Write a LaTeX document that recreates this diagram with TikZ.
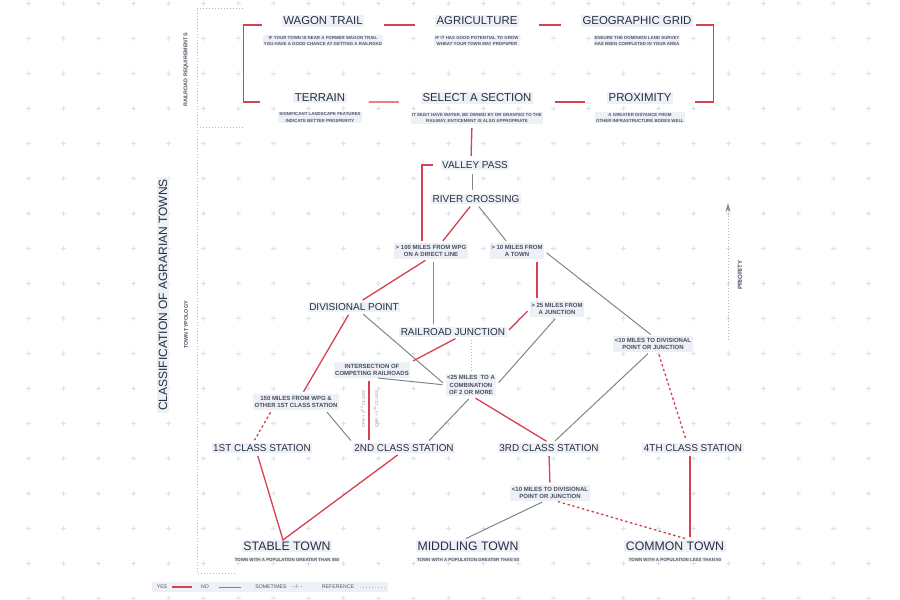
\documentclass[tikz,border=0pt]{standalone}
\usepackage{fontspec}
\setmainfont{Liberation Sans}
\setsansfont{Liberation Sans}
\usepackage{xcolor}
\usetikzlibrary{arrows.meta, positioning, calc}

\definecolor{yesred}{RGB}{214,64,80}
\definecolor{nogrey}{RGB}{128,132,140}
\definecolor{ink}{RGB}{40,46,66}
\definecolor{notegrey}{RGB}{78,84,102}
\definecolor{tagbg}{RGB}{237,241,246}
\definecolor{gridgrey}{RGB}{222,225,230}
\definecolor{refgrey}{RGB}{178,182,190}

\newcommand{\pxfont}[2]{\fontsize{#1}{#2}\selectfont}

\begin{document}
\begin{tikzpicture}[
	  x=1pt, y=-1pt,
	  font=\sffamily,
	  reqtitle/.style={fill=tagbg, inner sep=1.5pt, text=ink, font=\pxfont{11.4}{13}},
	  reqnote/.style={fill=tagbg, inner sep=1pt, text=notegrey, align=center, font=\bfseries\pxfont{4.4}{6.2}},
	  stage/.style={fill=tagbg, inner sep=1.5pt, text=ink, font=\pxfont{10}{12}},
	  crit/.style={fill=tagbg, inner sep=1.5pt, text=ink!85, align=center, font=\bfseries\pxfont{6}{7.8}},
	  station/.style={stage, font=\pxfont{9.9}{12}},
	  town/.style={stage, font=\pxfont{12.3}{14}},
	  sidelabel/.style={rotate=90, text=notegrey, font=\bfseries\pxfont{5.4}{6.5}},
	  legendtext/.style={text=notegrey, inner sep=0pt, font=\pxfont{5.2}{6}},
	  yesline/.style={yesred, line width=1.3pt},
	  noline/.style={nogrey, line width=1pt},
	  maybeline/.style={yesred, line width=1.3pt, dash pattern=on 2.5pt off 2.5pt},
	  refline/.style={refgrey, line width=1pt, dash pattern=on 1pt off 2pt},
	  gridmark/.style={gridgrey, line width=0.5pt},
	  linegap/.style={shorten <=#1, shorten >=#1},
	  linegap/.default=3pt
	]
	\useasboundingbox (0,0) rectangle (900,600);
	
	% Background grid
	\foreach \gx in {0,...,25}
	  \foreach \gy in {0,...,17}
	    \draw[gridmark] (28+35*\gx,3+35*\gy) ++(-2.5,0) -- ++(5,0) ++(-2.5,-2.5) -- ++(0,5);
	
	% Reference frame and side titles
	\draw[refline] (243,8) -- (197,8) -- (197,573) -- (237,573);
	\draw[refline] (197,127) -- (243,127);
	\node[sidelabel] (reqside) at (186,70) {RAILROAD REQUIREMENTS};
	\node[rotate=90, fill=tagbg, text=ink, inner sep=2pt, font=\pxfont{12}{14}] (classtitle) at (163,295) {CLASSIFICATION OF AGRARIAN TOWNS};
	\node[sidelabel] (typology) at (186,325) {TOWN TYPOLOGY};
	
	% Railroad requirements
	\node[reqtitle] (wagon) at (323,21) {WAGON TRAIL};
	\node[reqnote, below=8pt of wagon] (wagonnote) {IF YOUR TOWN IS NEAR A FORMER WAGON TRAIL\\YOU HAVE A GOOD CHANCE AT GETTING A RAILROAD};
	
	\node[reqtitle] (agri) at (477,21) {AGRICULTURE};
	\node[reqnote, below=8pt of agri] (agrinote) {IF IT HAS GOOD POTENTIAL TO GROW\\WHEAT YOUR TOWN MAY PROPSPER};
	
	\node[reqtitle] (geo) at (637,21) {GEOGRAPHIC GRID};
	\node[reqnote, below=8pt of geo] (geonote) {ENSURE THE DOMINION LAND SURVEY\\HAS BEEN COMPLETED IN YOUR AREA};
	
	\node[reqtitle] (terrain) at (320,98) {TERRAIN};
	\node[reqnote, below=8pt of terrain] (terrainnote) {SIGNIFICANT LANDSCAPE FEATURES\\INDICATE BETTER PROSPERITY};
	
	\node[reqtitle] (select) at (477,98) {SELECT A SECTION};
	\node[reqnote, below=8pt of select] (selectnote) {IT MUST HAVE WATER, BE OWNED BY OR GRANTED TO THE\\RAILWAY, ENTICEMENT IS ALSO APPROPRIATE};
	
	\node[reqtitle] (prox) at (640,98) {PROXIMITY};
	\node[reqnote, below=8pt of prox] (proxnote) {A GREATER DISTANCE FROM\\OTHER INFRASTRUCTURE BODES WELL};
	
	% Decision tree
	\node[stage] (valley) at (475,165) {VALLEY PASS};
	\node[stage] (river) at (476,199) {RIVER CROSSING};
	\node[crit] (wpg100) at (431,251) {> 100 MILES FROM WPG\\ON A DIRECT LINE};
	\node[crit] (town10) at (517,251) {> 10 MILES FROM\\A TOWN};
	\node[stage] (divisional) at (354,307) {DIVISIONAL POINT};
	\node[stage] (junction) at (453,332) {RAILROAD JUNCTION};
	\node[crit] (jn25) at (557,309) {> 25 MILES FROM\\A JUNCTION};
	\node[crit] (div10) at (653,344) {<10 MILES TO DIVISIONAL\\POINT OR JUNCTION};
	\node[crit] (intersect) at (372,370) {INTERSECTION OF\\COMPETING RAILROADS};
	\node[crit] (comb25) at (471,385) {<25 MILES~~TO A\\COMBINATION\\OF 2 OR MORE};
	\node[crit] (first150) at (296,402) {150 MILES FROM WPG \&\\OTHER 1ST CLASS STATION};
	\node[sidelabel, text=refgrey, font=\bfseries\pxfont{4.2}{5}] (cprlbl) at (363,409) {CPR + 2\textsuperscript{ND} CLASS};
	\node[sidelabel, text=refgrey, font=\bfseries\pxfont{4.2}{5}] (cnrlbl) at (376,409) {CNR + 2\textsuperscript{ND} CLASS};
	
	% Stations and towns
	\node[station] (first) at (262,448) {1ST CLASS STATION};
	\node[station] (second) at (404,448) {2ND CLASS STATION};
	\node[station] (third) at (549,448) {3RD CLASS STATION};
	\node[station] (fourth) at (693,448) {4TH CLASS STATION};
	\node[crit] (div10low) at (550,493) {<10 MILES TO DIVISIONAL\\POINT OR JUNCTION};
	
	\node[town] (stable) at (287,546) {STABLE TOWN};
	\node[reqnote, below=5pt of stable] (stablenote) {TOWN WITH A POPULATION GREATER THAN 450};
	\node[town] (middling) at (468,546) {MIDDLING TOWN};
	\node[reqnote, below=5pt of middling] (middlingnote) {TOWN WITH A POPULATION GREATER THAN 50};
	\node[town] (common) at (675,546) {COMMON TOWN};
	\node[reqnote, below=5pt of common] (commonnote) {TOWN WITH A POPULATION LESS THAN 50};
	
	% Requirement links
	\draw[yesline, linegap=20pt] (wagon.base east) -- (agri.base west);
	\draw[yesline, linegap=20pt] (agri.base east) -- (geo.base west);
	\draw[yesline, linegap=22pt] (terrain.base east) -- (select.base west);
	\draw[yesline, linegap=22pt] (select.base east) -- (prox.base west);
	\draw[yesline] ([xshift=-20pt]wagon.base west) -- ++(-18,0) |- ([xshift=-33pt]terrain.base west);
	\draw[yesline] ([xshift=3pt]geo.base east) -- ++(17,0) |- ([xshift=22pt]prox.base east);
	\draw[yesline, linegap=4pt] ([xshift=-5pt]selectnote.south) -- ([xshift=-4pt]valley.north);
	
	% Tree links
	\draw[yesline, shorten <=7pt, shorten >=2pt] (valley.west) -| ([xshift=-9pt]wpg100.north);
	\draw[noline, linegap=4pt] ([xshift=-3pt]valley.south) -- ([xshift=-3pt]valley.south |- river.north);
	\draw[yesline, linegap] ([xshift=-4pt]river.south) -- ([xshift=10pt]wpg100.north);
	\draw[noline, linegap] ([xshift=1pt]river.south) -- ([xshift=-9pt]town10.north);
	\draw[yesline, linegap] ([xshift=-3pt]wpg100.south) -- ([xshift=6pt]divisional.north);
	\draw[noline, linegap] ([xshift=2pt]wpg100.south) -- ([xshift=2pt]wpg100.south |- junction.north);
	\draw[yesline, linegap] ([xshift=20pt]town10.south) -- ([xshift=20pt]town10.south |- jn25.north);
	\draw[noline, linegap] (town10.east) -- (div10.north);
	\draw[yesline, linegap] (jn25.west) -- (junction.east);
	\draw[noline, linegap] (jn25.south) -- (comb25.east);
	\draw[yesline, linegap] ([xshift=-4pt]divisional.south) -- ([xshift=6pt]first150.north);
	\draw[noline, linegap] ([xshift=7pt]divisional.south) -- (comb25.west);
	\draw[yesline, linegap] ([xshift=5pt]junction.south) -- (intersect.north east);
	\draw[refline, linegap] (comb25.north |- junction.south) -- (comb25.north);
	\draw[noline, linegap] ([xshift=3pt]intersect.south) -- (comb25.west);
	\draw[yesline, linegap] ([xshift=-3pt]intersect.south) -- ([xshift=-3pt]intersect.south |- second.north);
	\draw[maybeline, linegap] ([xshift=-24pt]first150.south) -- ([xshift=-9pt]first.north);
	\draw[noline, linegap] ([xshift=29pt]first150.south) -- (second.north west);
	\draw[noline, linegap] (comb25.south) -- ([xshift=23pt]second.north);
	\draw[yesline, linegap] ([xshift=2pt]comb25.south) -- (third.north);
	\draw[noline, linegap] ([xshift=-3pt]div10.south) -- ([xshift=4pt]third.north);
	\draw[maybeline, linegap] ([xshift=5pt]div10.south) -- ([xshift=-6pt]fourth.north);
	
	% Station to town links
	\draw[yesline, linegap] ([xshift=-5pt]first.south) -- ([xshift=-4pt]stable.north) -- ([xshift=-4pt]second.south);
	\draw[yesline, linegap] (third.south) -- (div10low.north);
	\draw[noline, linegap] ([xshift=-5pt]div10low.south) -- ([xshift=-5pt]middling.north);
	\draw[maybeline, linegap] ([xshift=5pt]div10low.south) -- ([xshift=15pt]common.north);
	\draw[yesline, linegap] ([xshift=-3pt]fourth.south) -- ([xshift=-3pt]fourth.south |- common.north);
	
	% Priority
	\coordinate (prioritylow) at (728,340);
	\coordinate (priorityhigh) at (728,203);
	\draw[refline, -{Stealth[length=9pt, width=5pt, nogrey]}] (prioritylow) -- (priorityhigh);
	\node[sidelabel, font=\bfseries\pxfont{6.2}{7}] (priority) at (740,275) {PRIORITY};
	
	% Legend
	\node[fill=tagbg, minimum width=236pt, minimum height=10pt, inner sep=0pt] (legendbar) at (270,587) {};
	\node[legendtext] (yeslbl) at (162,587) {YES};
	\draw[yesline] ([xshift=5pt]yeslbl.east) -- ++(20,0);
	\node[legendtext] (nolbl) at (205,587) {NO};
	\draw[noline] ([xshift=10pt]nolbl.east) -- ++(22,0);
	\node[legendtext] (sometimeslbl) at (271,587) {SOMETIMES};
	\node[legendtext, right=4pt of sometimeslbl] (sometimesmark) {- -/- -};
	\node[legendtext] (reflbl) at (338,587) {REFERENCE};
	\draw[refline] ([xshift=6pt]reflbl.east) -- ++(25,0);
	
	\end{tikzpicture}
\end{document}
